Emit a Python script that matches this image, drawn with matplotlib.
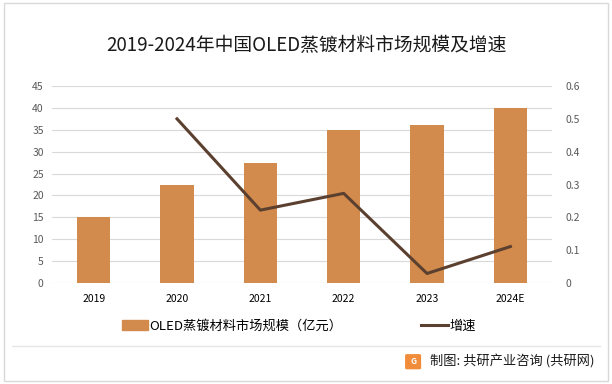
import matplotlib.pyplot as plt
from matplotlib.patches import Rectangle, FancyBboxPatch
from matplotlib.lines import Line2D

plt.rcParams['font.family'] = ['Noto Sans CJK SC', 'DejaVu Sans']

years = ['2019', '2020', '2021', '2022', '2023', '2024E']
market_size = [15, 22.5, 27.5, 35, 36, 40]          # 亿元
growth_years = ['2020', '2021', '2022', '2023', '2024E']
growth_rate = [0.5, 0.222, 0.273, 0.029, 0.111]

bar_color = '#D38B4D'
line_color = '#5B4030'
tick_color = '#595959'

fig = plt.figure(figsize=(6.12, 3.84), dpi=100)

# outer frame
fig.patches.append(Rectangle((0.006, 0.008), 0.988, 0.984, transform=fig.transFigure,
                             fill=False, edgecolor='#D9D9D9', linewidth=1))

fig.text(0.5, 0.882, '2019-2024年中国OLED蒸镀材料市场规模及增速', ha='center', va='center',
         fontsize=13.5, color='#1a1a1a')

ax = fig.add_axes([0.085, 0.263, 0.817, 0.513])
x = list(range(len(years)))
ax.bar(x, market_size, width=0.4, color=bar_color, zorder=2)
ax.set_ylim(0, 45)
ax.set_yticks(range(0, 50, 5))
ax.set_xlim(-0.5, len(years) - 0.5)
ax.set_xticks(x)
ax.set_xticklabels(years)
ax.grid(axis='y', color='#D9D9D9', linewidth=0.8, zorder=0)
for s in ax.spines.values():
    s.set_visible(False)
ax.tick_params(length=0, labelsize=7.5, colors=tick_color, pad=6)
ax.tick_params(axis='x', colors='#000000', pad=8)

ax2 = ax.twinx()
gx = [years.index(y) for y in growth_years]
ax2.plot(gx, growth_rate, color=line_color, linewidth=2.2, zorder=3)
ax2.set_ylim(0, 0.6)
ax2.set_yticks([0, 0.1, 0.2, 0.3, 0.4, 0.5, 0.6])
ax2.set_yticklabels(['0', '0.1', '0.2', '0.3', '0.4', '0.5', '0.6'])
for s in ax2.spines.values():
    s.set_visible(False)
ax2.tick_params(length=0, labelsize=7.5, colors=tick_color, pad=10)

handles = [Rectangle((0, 0), 1, 1, color=bar_color),
           Line2D([0], [0], color=line_color, linewidth=2.2)]
fig.legend(handles, ['OLED蒸镀材料市场规模（亿元）', '增速'], ncol=2, frameon=False,
           loc='center', bbox_to_anchor=(0.488, 0.151), fontsize=9.5,
           columnspacing=6, handlelength=2.0, handletextpad=0.1)

# separator and source
fig.add_artist(Line2D([0.02, 0.98], [0.099, 0.099], color='#E6E6E6', linewidth=1,
                      transform=fig.transFigure))
fig.patches.append(FancyBboxPatch((0.665, 0.042), 0.02, 0.032, transform=fig.transFigure,
                                  boxstyle='round,pad=0.002', color='#F08C3A'))
fig.text(0.675, 0.058, 'G', ha='center', va='center', fontsize=6, color='white', weight='bold')
fig.text(0.702, 0.058, '制图: 共研产业咨询 (共研网)', ha='left', va='center', fontsize=9.5,
         color='#1a1a1a')

fig.savefig('out.png', dpi=100)
